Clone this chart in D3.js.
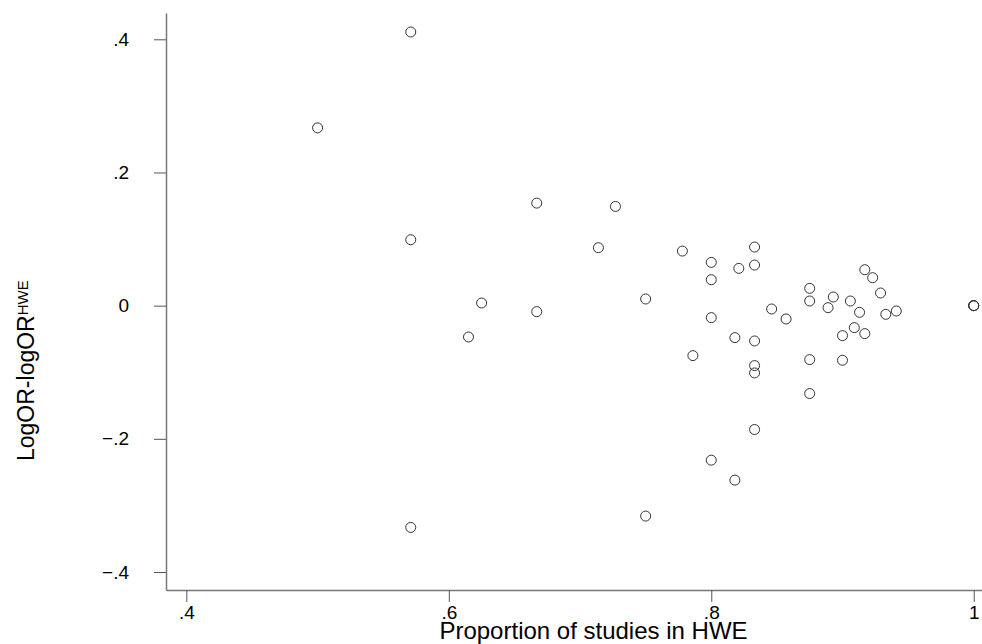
<!DOCTYPE html>
<meta charset="utf-8">
<style>
body { margin: 0; background: #fff; }
svg text { font-family: Arial, "Liberation Sans", sans-serif; fill: #000; }
.axis path { stroke: #777; stroke-width: 1.5px; }
.axis line { stroke: #555; stroke-width: 1px; }
.dot { fill: none; stroke: #333; stroke-width: 1px; }
</style>
<body>
<div id="chart"></div>
<script src="https://d3js.org/d3.v7.min.js"></script>
<script>

// proportion of studies in HWE (x) vs difference in log odds ratios (y)
var propHWE = [0.571, 0.5, 0.571, 0.667, 0.727, 0.714, 0.625, 0.667, 0.75,
               0.778, 0.8, 0.833, 0.833, 0.821, 0.8, 0.615, 0.8, 0.846, 0.857,
               0.818, 0.833, 0.786, 0.833, 0.833, 0.833, 0.8, 0.818, 0.75, 0.571,
               0.917, 0.923, 0.875, 0.929, 0.875, 0.893, 0.889, 0.906, 0.913,
               0.933, 0.941, 0.909, 0.9, 0.917, 0.875, 0.9, 0.875, 1, 1, 1];
var diffLogOR = [0.411, 0.267, 0.099, 0.154, 0.149, 0.087, 0.004, -0.009, 0.010,
                 0.082, 0.065, 0.088, 0.061, 0.056, 0.039, -0.047, -0.018, -0.005, -0.020,
                 -0.048, -0.053, -0.075, -0.090, -0.101, -0.186, -0.232, -0.262, -0.316, -0.333,
                 0.054, 0.042, 0.026, 0.019, 0.007, 0.013, -0.003, 0.007, -0.010,
                 -0.013, -0.008, -0.033, -0.045, -0.042, -0.081, -0.082, -0.132, 0, 0, 0];

var xTicks = [0.4, 0.6, 0.8, 1];
var yTicks = [-0.4, -0.2, 0, 0.2, 0.4];

var fmt = function(v) { return v === 0 ? "0" : (v === 1 ? "1" : d3.format(".1f")(v).replace("0.", ".")); };

var chartWidth = 982, chartHeight = 644;
var margin = {top: 13, right: 0, bottom: 54, left: 166},
    width  = chartWidth - margin.left - margin.right,
    height = chartHeight - margin.top - margin.bottom;

var svg = d3.select("#chart").append("svg")
    .attr("width", chartWidth)
    .attr("height", chartHeight)
  .append("g")
    .attr("transform", "translate(" + margin.left + "," + margin.top + ")");

var x = d3.scaleLinear()
    .domain([0.3845, 1.0063])
    .range([0, width]);

var y = d3.scaleLinear()
    .domain([-0.427, 0.4395])
    .range([height, 0]);

svg.append("g")
    .attr("class", "axis")
    .attr("transform", "translate(0," + height + ")")
    .call(d3.axisBottom(x).tickValues(xTicks).tickFormat(fmt).tickSize(12).tickSizeOuter(0).tickPadding(4));

svg.append("g")
    .attr("class", "axis")
    .call(d3.axisLeft(y).tickValues(yTicks).tickFormat(fmt).tickSize(12).tickSizeOuter(0).tickPadding(25));

svg.selectAll(".axis text")
    .style("font-size", "19px")
    .style("font-family", "Arial, 'Liberation Sans', sans-serif");

svg.selectAll(".dot")
    .data(propHWE)
    .enter().append("circle")
    .attr("class", "dot")
    .attr("cx", (d) => x(d))
    .attr("cy", (d, i) => y(diffLogOR[i]))
    .attr("r", 5);

// axis titles
svg.append("text")
    .attr("x", 593.5 - margin.left)
    .attr("y", height + 49)
    .attr("text-anchor", "middle")
    .style("font-size", "24px")
    .text("Proportion of studies in HWE");

var yt = svg.append("text")
    .attr("transform", "translate(" + (34 - margin.left) + "," + (461 - margin.top) + ") rotate(-90)")
    .attr("text-anchor", "start")
    .style("font-size", "23px");
yt.append("tspan").text("LogOR-logOR");
yt.append("tspan")
    .attr("dy", -6)
    .style("font-size", "15px")
    .text("HWE");

</script>
</body>
